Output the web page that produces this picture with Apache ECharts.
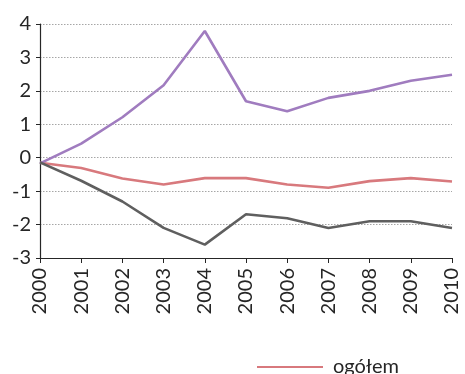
<!DOCTYPE html>
<html>
<head>
<meta charset="utf-8">
<script src="https://cdn.jsdelivr.net/npm/echarts@6/dist/echarts.min.js"></script>
<style>
  html, body { margin: 0; padding: 0; background: #fff; }
  #chart { width: 465px; height: 374px; }
</style>
</head>
<body>
<div id="chart"></div>
<script>
// Years on the category axis
var years = ['2000', '2001', '2002', '2003', '2004', '2005', '2006', '2007', '2008', '2009', '2010'];

// Series values
var ogolem    = [-0.15, -0.31, -0.62, -0.80, -0.61, -0.61, -0.80, -0.90, -0.70, -0.61, -0.71];
var kobiety   = [-0.17, 0.42, 1.21, 2.17, 3.79, 1.69, 1.39, 1.79, 2.00, 2.30, 2.48];
var mezczyzni = [-0.14, -0.69, -1.31, -2.10, -2.60, -1.69, -1.81, -2.10, -1.90, -1.90, -2.10];

var fontFamily = 'Lato, "Open Sans", sans-serif';
var chart = echarts.init(document.getElementById('chart'));

function lineSeries(name, data, color) {
  return {
    name: name,
    type: 'line',
    data: data,
    symbol: 'none',
    smooth: false,
    lineStyle: { color: color, width: 2.6 },
    itemStyle: { color: color },
    z: 3
  };
}

chart.setOption({
  animation: false,
  grid: { left: 40, right: 13, top: 24, bottom: 116, containLabel: false },
  legend: {
    data: ['ogółem'],
    left: 252,
    top: 352,
    itemWidth: 66,
    itemHeight: 12,
    itemGap: 8,
    textStyle: { fontFamily: fontFamily, fontSize: 20, color: '#262626', padding: [0, 0, 0, 5] },
    icon: 'path://M0,5 L66,5 L66,7 L0,7 Z'
  },
  xAxis: {
    type: 'category',
    data: years,
    boundaryGap: false,
    axisLine: { show: true, onZero: false, lineStyle: { color: '#262626', width: 1.2 } },
    axisTick: { show: true, alignWithLabel: true, length: 5, lineStyle: { color: '#262626' } },
    axisLabel: {
      rotate: 90,
      margin: 10,
      fontFamily: fontFamily,
      fontSize: 20,
      color: '#262626'
    },
    splitLine: { show: false }
  },
  yAxis: {
    type: 'value',
    min: -3,
    max: 4,
    interval: 1,
    axisLine: { show: true, lineStyle: { color: '#262626', width: 1.2 } },
    axisTick: { show: true, length: 4, lineStyle: { color: '#262626' } },
    axisLabel: {
      margin: 9,
      fontFamily: fontFamily,
      fontSize: 20,
      color: '#262626'
    },
    splitLine: { show: true, lineStyle: { color: '#a6a6a6', type: [1.5, 1.5], width: 1 } }
  },
  series: [
    lineSeries('ogółem', ogolem, '#d8797d'),
    lineSeries('kobiety', kobiety, '#a07cbf'),
    lineSeries('mężczyźni', mezczyzni, '#5f5f5f')
  ]
});
</script>
</body>
</html>
